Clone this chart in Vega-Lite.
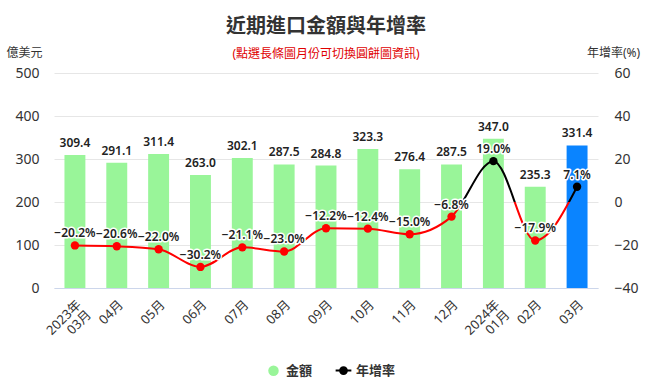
{
  "$schema": "https://vega.github.io/schema/vega-lite/v6.json",
  "autosize": "none",
  "width": 544,
  "height": 215,
  "padding": {"left": 54, "top": 73, "right": 51, "bottom": 97},
  "background": "white",
  "config": {
    "font": "'Noto Sans', 'Noto Sans CJK TC', sans-serif",
    "view": {"stroke": null},
    "style": {"guide-label": {"lineBreak": "|"}},
    "title": {"fontSize": 20, "fontWeight": "bold", "color": "#333333", "subtitleColor": "#e00000", "subtitleFontSize": 12, "subtitlePadding": 12, "offset": -14, "anchor": "middle", "frame": "group"},
    "axis": {"labelColor": "#333333", "titleColor": "#333333", "titleFontWeight": "normal", "titleFontSize": 12}
  },
  "title": {"text": "近期進口金額與年增率", "subtitle": "(點選長條圖月份可切換圓餅圖資訊)"},
  "data": {"values": [
    {"m": "2023年|03月", "amount": 309.4, "rate": -20.2},
    {"m": "04月", "amount": 291.1, "rate": -20.6},
    {"m": "05月", "amount": 311.4, "rate": -22.0},
    {"m": "06月", "amount": 263.0, "rate": -30.2},
    {"m": "07月", "amount": 302.1, "rate": -21.1},
    {"m": "08月", "amount": 287.5, "rate": -23.0},
    {"m": "09月", "amount": 284.8, "rate": -12.2},
    {"m": "10月", "amount": 323.3, "rate": -12.4},
    {"m": "11月", "amount": 276.4, "rate": -15.0},
    {"m": "12月", "amount": 287.5, "rate": -6.8},
    {"m": "2024年|01月", "amount": 347.0, "rate": 19.0},
    {"m": "02月", "amount": 235.3, "rate": -17.9},
    {"m": "03月", "amount": 331.4, "rate": 7.1}
  ]},
  "transform": [
    {"calculate": "format(datum.amount, '.1f')", "as": "alabel"},
    {"calculate": "format(datum.rate, '.1f') + '%'", "as": "rlabel"}
  ],
  "layer": [
    {
      "layer": [
        {
          "mark": {"type": "bar"},
          "encoding": {
            "x": {
              "field": "m", "type": "ordinal", "sort": null,
              "scale": {"paddingInner": 0.5, "paddingOuter": 0.25},
              "axis": {
                "title": null, "labelAngle": -45, "labelAlign": "right", "labelBaseline": "top",
                "labelFontSize": 13, "labelPadding": 10,
                "labelLineHeight": 14, "ticks": false, "domainColor": "#ccd6eb", "grid": false
              }
            },
            "y": {
              "field": "amount", "type": "quantitative",
              "scale": {"domain": [0, 500], "nice": false},
              "axis": {
                "title": "億美元", "titleAngle": 0, "titleAlign": "center", "titleBaseline": "middle",
                "titleX": -30, "titleY": -21, "values": [0, 100, 200, 300, 400, 500],
                "labelFontSize": 14, "labelPadding": 15, "ticks": false, "domain": false,
                "grid": true, "gridColor": "#e6e6e6"
              }
            },
            "color": {
              "datum": "金額",
              "condition": {"test": "datum.m === '03月'", "value": "#0a84ff"},
              "scale": {"domain": ["金額", "年增率"], "range": ["#99f599", "#000000"]},
              "legend": {
                "title": null, "orient": "none", "direction": "horizontal",
                "legendX": 213, "legendY": 291, "labelFontSize": 13, "labelFontWeight": "bold",
                "labelColor": "#333333", "symbolSize": 110, "columnPadding": 18, "labelOffset": 6,
                "encode": {
                  "symbols": {
                    "update": {
                      "shape": {"signal": "datum.value === '年增率' ? 'M-1.5,0H1.5M-0.65,0A0.65,0.65 0 1,0 0.65,0A0.65,0.65 0 1,0 -0.65,0' : 'circle'"},
                      "stroke": {"signal": "datum.value === '年增率' ? '#000000' : '#99f599'"},
                      "fill": {"signal": "datum.value === '年增率' ? '#000000' : '#99f599'"},
                      "strokeWidth": {"signal": "datum.value === '年增率' ? 2 : 0"},
                      "opacity": {"value": 1}
                    }
                  }
                }
              }
            }
          }
        },
        {
          "mark": {"type": "text", "baseline": "bottom", "dy": -5, "fontSize": 12, "fontWeight": 600, "color": "#222222"},
          "encoding": {
            "x": {"field": "m", "type": "ordinal", "sort": null},
            "y": {"field": "amount", "type": "quantitative", "scale": {"domain": [0, 500], "nice": false}},
            "text": {"field": "alabel"}
          }
        }
      ]
    },
    {
      "layer": [
        {
          "mark": {
            "type": "line", "interpolate": "monotone", "strokeWidth": 2,
            "color": {"gradient": "linear", "x1": 0, "y1": 0, "x2": 0, "y2": 1,
              "stops": [
                {"offset": 0, "color": "#000000"},
                {"offset": 0.3862, "color": "#000000"},
                {"offset": 0.3862, "color": "#ff0000"},
                {"offset": 1, "color": "#ff0000"}
              ]}
          },
          "encoding": {
            "x": {"field": "m", "type": "ordinal", "sort": null},
            "y": {
              "field": "rate", "type": "quantitative",
              "scale": {"domain": [-40, 60], "nice": false},
              "axis": {
                "orient": "right", "title": "年增率(%)", "titleAngle": 0, "titleAlign": "center",
                "titleBaseline": "middle", "titleX": 15, "titleY": -21,
                "values": [-40, -20, 0, 20, 40, 60], "labelFontSize": 14, "labelPadding": 16,
                "ticks": false, "domain": false, "grid": false
              }
            }
          }
        },
        {
          "mark": {"type": "point", "filled": true, "size": 70, "opacity": 1},
          "encoding": {
            "x": {"field": "m", "type": "ordinal", "sort": null},
            "y": {"field": "rate", "type": "quantitative", "scale": {"domain": [-40, 60], "nice": false}},
            "color": {
              "datum": "年增率",
              "condition": {"test": "datum.rate < 0", "value": "#ff0000"}
            }
          }
        },
        {
          "mark": {"type": "text", "baseline": "bottom", "dy": -5, "fontSize": 12, "fontWeight": 600, "color": "white", "stroke": "white", "strokeWidth": 3, "strokeJoin": "round"},
          "encoding": {
            "x": {"field": "m", "type": "ordinal", "sort": null},
            "y": {"field": "rate", "type": "quantitative", "scale": {"domain": [-40, 60], "nice": false}},
            "text": {"field": "rlabel"}
          }
        },
        {
          "mark": {"type": "text", "baseline": "bottom", "dy": -5, "fontSize": 12, "fontWeight": 600, "color": "#222222"},
          "encoding": {
            "x": {"field": "m", "type": "ordinal", "sort": null},
            "y": {"field": "rate", "type": "quantitative", "scale": {"domain": [-40, 60], "nice": false}},
            "text": {"field": "rlabel"}
          }
        }
      ]
    }
  ],
  "resolve": {"scale": {"y": "independent"}}
}
